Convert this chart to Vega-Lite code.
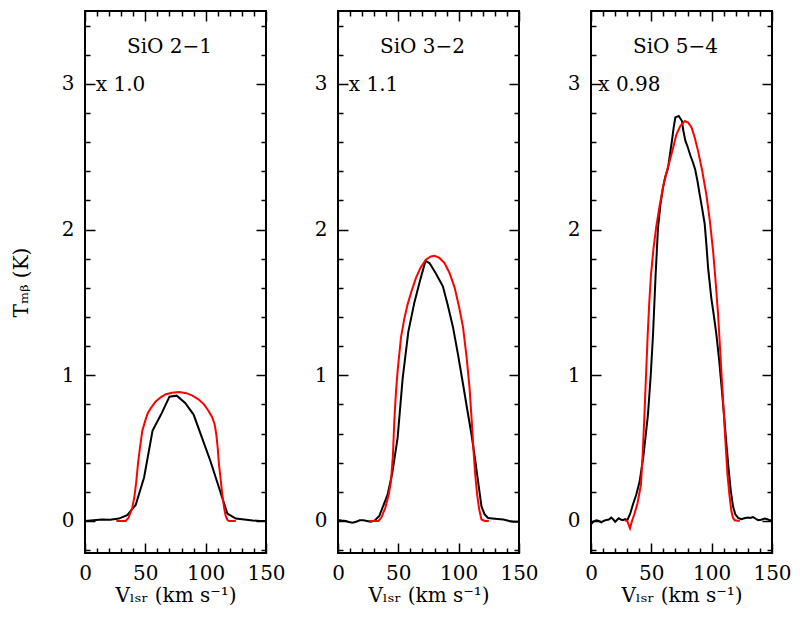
{
  "$schema": "https://vega.github.io/schema/vega-lite/v6.json",
  "background": "white",
  "padding": {"left": 10, "top": 9, "right": 5, "bottom": 5},
  "config": {
    "view": {"stroke": "black", "strokeWidth": 2},
    "font": "DejaVu Serif",
    "axis": {"domain": false, "grid": false, "tickColor": "black", "tickWidth": 1.5, "labelColor": "black", "labelFont": "DejaVu Serif", "labelFontSize": 20, "titleFont": "DejaVu Serif", "titleFontSize": 20, "titleFontWeight": "normal", "titleColor": "black", "labelFlush": false, "labelOverlap": false}
  },
  "datasets": {
    "labels": [
      {"panel": "2-1", "title": "SiO 2−1", "factor": "x 1.0"},
      {"panel": "3-2", "title": "SiO 3−2", "factor": "x 1.1"},
      {"panel": "5-4", "title": "SiO 5−4", "factor": "x 0.98"}
    ],
    "obs21": [{"v":0,"T":0},{"v":7,"T":0.005},{"v":14,"T":0.01},{"v":21,"T":0.008},{"v":28,"T":0.016},{"v":35,"T":0.04},{"v":42,"T":0.11},{"v":49,"T":0.30},{"v":56,"T":0.62},{"v":63,"T":0.73},{"v":70,"T":0.853},{"v":76,"T":0.86},{"v":83,"T":0.81},{"v":90,"T":0.73},{"v":97,"T":0.57},{"v":104,"T":0.41},{"v":111,"T":0.23},{"v":118,"T":0.05},{"v":125,"T":0.016},{"v":132,"T":0.01},{"v":139,"T":0.003},{"v":145,"T":0},{"v":150,"T":0}],
    "mod21": [{"v":26,"T":0},{"v":33.7,"T":0},{"v":36,"T":0.02},{"v":39.2,"T":0.09},{"v":41,"T":0.17},{"v":42.5,"T":0.27},{"v":44,"T":0.4},{"v":45.5,"T":0.5},{"v":47.5,"T":0.62},{"v":50,"T":0.69},{"v":52,"T":0.74},{"v":55,"T":0.78},{"v":58.6,"T":0.82},{"v":63,"T":0.85},{"v":67,"T":0.87},{"v":72,"T":0.88},{"v":78,"T":0.885},{"v":84,"T":0.877},{"v":89,"T":0.86},{"v":94,"T":0.835},{"v":98.6,"T":0.8},{"v":102,"T":0.76},{"v":105.5,"T":0.71},{"v":107.5,"T":0.66},{"v":108.8,"T":0.595},{"v":110,"T":0.5},{"v":111,"T":0.39},{"v":112.5,"T":0.28},{"v":113.8,"T":0.18},{"v":115.3,"T":0.09},{"v":116.6,"T":0.034},{"v":118,"T":0.008},{"v":119.3,"T":0},{"v":125,"T":0}],
    "obs32": [{"v":0,"T":0.007},{"v":3,"T":0.003},{"v":6.4,"T":0},{"v":9,"T":-0.008},{"v":12,"T":-0.012},{"v":15,"T":-0.005},{"v":18,"T":0.004},{"v":21,"T":0.005},{"v":24,"T":0},{"v":27,"T":-0.005},{"v":30,"T":0},{"v":34.2,"T":0.034},{"v":41.1,"T":0.18},{"v":45,"T":0.33},{"v":49.4,"T":0.57},{"v":53.6,"T":0.98},{"v":58.3,"T":1.3},{"v":63.3,"T":1.5},{"v":68,"T":1.65},{"v":72.5,"T":1.785},{"v":75.8,"T":1.77},{"v":81,"T":1.7},{"v":86.9,"T":1.61},{"v":91,"T":1.48},{"v":95.3,"T":1.33},{"v":99.5,"T":1.14},{"v":103.6,"T":0.94},{"v":107,"T":0.77},{"v":110.6,"T":0.595},{"v":113.5,"T":0.43},{"v":116.1,"T":0.27},{"v":118.9,"T":0.1},{"v":121.5,"T":0.045},{"v":124.4,"T":0.02},{"v":130,"T":0.015},{"v":137,"T":0.01},{"v":142,"T":0},{"v":145.3,"T":-0.005},{"v":150,"T":-0.005}],
    "mod32": [{"v":25.8,"T":0},{"v":33.6,"T":0},{"v":36,"T":0.025},{"v":39.2,"T":0.09},{"v":42,"T":0.18},{"v":43.9,"T":0.27},{"v":45.5,"T":0.45},{"v":46.7,"T":0.69},{"v":48,"T":0.88},{"v":49.4,"T":1.03},{"v":52.2,"T":1.26},{"v":55,"T":1.39},{"v":57.8,"T":1.49},{"v":61,"T":1.58},{"v":64.7,"T":1.67},{"v":68.5,"T":1.74},{"v":73,"T":1.795},{"v":77,"T":1.815},{"v":80,"T":1.82},{"v":84,"T":1.805},{"v":88.3,"T":1.77},{"v":92.5,"T":1.7},{"v":96.7,"T":1.6},{"v":100.3,"T":1.47},{"v":103.6,"T":1.33},{"v":106.5,"T":1.13},{"v":109,"T":0.915},{"v":110.8,"T":0.69},{"v":112.5,"T":0.46},{"v":113.8,"T":0.31},{"v":115.3,"T":0.18},{"v":117,"T":0.08},{"v":118.9,"T":0.01},{"v":121.7,"T":0},{"v":125,"T":0}],
    "obs54": [{"v":0,"T":-0.023},{"v":2,"T":-0.005},{"v":4.4,"T":0.005},{"v":6.5,"T":0},{"v":8.5,"T":-0.01},{"v":10.5,"T":0},{"v":12.7,"T":0.007},{"v":14.8,"T":0.01},{"v":16.8,"T":0.023},{"v":18.5,"T":0.01},{"v":20.1,"T":-0.005},{"v":22.9,"T":0.018},{"v":24.7,"T":0.01},{"v":26.5,"T":0.005},{"v":28.3,"T":0.012},{"v":30.1,"T":0.005},{"v":32.5,"T":0.05},{"v":34.8,"T":0.115},{"v":37.5,"T":0.18},{"v":40.3,"T":0.27},{"v":43.5,"T":0.45},{"v":47.2,"T":0.73},{"v":49.5,"T":1.0},{"v":51.4,"T":1.28},{"v":53.5,"T":1.68},{"v":55.5,"T":2.01},{"v":57.5,"T":2.17},{"v":59.7,"T":2.29},{"v":61.5,"T":2.36},{"v":63.8,"T":2.42},{"v":65.5,"T":2.52},{"v":67.1,"T":2.61},{"v":68.5,"T":2.7},{"v":69.9,"T":2.77},{"v":72.7,"T":2.78},{"v":75.4,"T":2.745},{"v":76.5,"T":2.68},{"v":78.2,"T":2.61},{"v":80,"T":2.57},{"v":82.3,"T":2.51},{"v":84.5,"T":2.46},{"v":86.4,"T":2.41},{"v":88.3,"T":2.33},{"v":90.1,"T":2.24},{"v":92.2,"T":2.14},{"v":94.2,"T":2.04},{"v":95.6,"T":1.9},{"v":97,"T":1.74},{"v":99.7,"T":1.53},{"v":101.8,"T":1.41},{"v":103.9,"T":1.28},{"v":106,"T":1.12},{"v":108,"T":0.94},{"v":110.1,"T":0.74},{"v":112.2,"T":0.53},{"v":114,"T":0.36},{"v":115.8,"T":0.21},{"v":117.7,"T":0.1},{"v":119.6,"T":0.046},{"v":122,"T":0.02},{"v":124.6,"T":0.012},{"v":127,"T":0.018},{"v":130.1,"T":0.023},{"v":132,"T":0.02},{"v":134.3,"T":0.027},{"v":136.5,"T":0.015},{"v":138.5,"T":0.005},{"v":141,"T":0.008},{"v":144,"T":0.016},{"v":146,"T":0.012},{"v":148,"T":0.005},{"v":150,"T":0.005}],
    "mod54": [{"v":27.9,"T":0.005},{"v":30,"T":0},{"v":32.3,"T":-0.05},{"v":34,"T":0},{"v":35.9,"T":0.046},{"v":38.5,"T":0.12},{"v":41.4,"T":0.25},{"v":42.8,"T":0.45},{"v":44.2,"T":0.71},{"v":45.6,"T":1.0},{"v":47,"T":1.28},{"v":48.3,"T":1.5},{"v":49.7,"T":1.69},{"v":51.8,"T":1.87},{"v":53.9,"T":2.01},{"v":56.8,"T":2.16},{"v":59.7,"T":2.29},{"v":62.5,"T":2.39},{"v":65.2,"T":2.47},{"v":68,"T":2.56},{"v":70.7,"T":2.65},{"v":74,"T":2.71},{"v":77.7,"T":2.745},{"v":80.5,"T":2.735},{"v":83.3,"T":2.7},{"v":86,"T":2.63},{"v":88.7,"T":2.54},{"v":92,"T":2.41},{"v":95.6,"T":2.24},{"v":98.5,"T":2.06},{"v":101.2,"T":1.85},{"v":103.3,"T":1.64},{"v":105.3,"T":1.42},{"v":107.4,"T":1.12},{"v":109.5,"T":0.82},{"v":111.3,"T":0.56},{"v":113.1,"T":0.32},{"v":114.7,"T":0.18},{"v":116.3,"T":0.07},{"v":117.7,"T":0.02},{"v":119.1,"T":0.005},{"v":123.3,"T":0}]
  },
  "spacing": 72,
  "bounds": "flush",
  "hconcat": [
    {
      "width": 181, "height": 542,
      "layer": [
        {"data": {"name": "obs21"}, "mark": {"type": "line", "color": "black", "strokeWidth": 2, "clip": true},
         "encoding": {
           "x": {"field": "v", "type": "quantitative", "scale": {"domain": [0, 150], "nice": false, "zero": false},
                 "axis": {"orient": "bottom", "values": [0,10,20,30,40,50,60,70,80,90,100,110,120,130,140,150], "tickSize": {"condition": {"test": "datum.value % 50 === 0", "value": -10}, "value": -5}, "labelExpr": "datum.value % 50 === 0 ? format(datum.value, 'd') : ''", "labelPadding": 20, "title": "Vₗₛᵣ (km s⁻¹)", "titlePadding": -3}},
           "y": {"field": "T", "type": "quantitative", "scale": {"domain": [-0.22, 3.5], "nice": false, "zero": false},
                 "axis": {"orient": "left", "values": [-0.2,0,0.2,0.4,0.6,0.8,1,1.2,1.4,1.6,1.8,2,2.2,2.4,2.6,2.8,3,3.2,3.4], "tickSize": {"condition": {"test": "abs(datum.value - round(datum.value)) < 1e-6", "value": -10}, "value": -5}, "labelExpr": "abs(datum.value - round(datum.value)) < 1e-6 ? format(datum.value, 'd') : ''", "labelPadding": 21, "title": "Tₘᵦ (K)", "titlePadding": 30}}
         }},
        {"data": {"name": "mod21"}, "mark": {"type": "line", "color": "#ff0000", "strokeWidth": 2, "clip": true},
         "encoding": {
           "x": {"field": "v", "type": "quantitative",
                 "axis": {"orient": "top", "labels": false, "title": null, "values": [0,10,20,30,40,50,60,70,80,90,100,110,120,130,140,150], "tickSize": {"condition": {"test": "datum.value % 50 === 0", "value": -10}, "value": -5}}},
           "y": {"field": "T", "type": "quantitative",
                 "axis": {"orient": "right", "labels": false, "title": null, "values": [-0.2,0,0.2,0.4,0.6,0.8,1,1.2,1.4,1.6,1.8,2,2.2,2.4,2.6,2.8,3,3.2,3.4], "tickSize": {"condition": {"test": "abs(datum.value - round(datum.value)) < 1e-6", "value": -10}, "value": -5}}}
         }},
        {"data": {"name": "labels"}, "transform": [{"filter": "datum.panel === '2-1'"}],
         "mark": {"type": "text", "align": "center", "baseline": "alphabetic", "fontSize": 20, "font": "DejaVu Serif", "color": "black"},
         "encoding": {"x": {"datum": 70, "type": "quantitative", "axis": null}, "y": {"datum": 3.215, "type": "quantitative", "axis": null}, "text": {"field": "title"}}},
        {"data": {"name": "labels"}, "transform": [{"filter": "datum.panel === '2-1'"}],
         "mark": {"type": "text", "align": "left", "baseline": "alphabetic", "fontSize": 20, "font": "DejaVu Serif", "color": "black"},
         "encoding": {"x": {"datum": 9, "type": "quantitative", "axis": null}, "y": {"datum": 2.952, "type": "quantitative", "axis": null}, "text": {"field": "factor"}}}
      ],
      "resolve": {"axis": {"x": "independent", "y": "independent"}}
    },
    {
      "width": 181, "height": 542,
      "layer": [
        {"data": {"name": "obs32"}, "mark": {"type": "line", "color": "black", "strokeWidth": 2, "clip": true},
         "encoding": {
           "x": {"field": "v", "type": "quantitative", "scale": {"domain": [0, 150], "nice": false, "zero": false},
                 "axis": {"orient": "bottom", "values": [0,10,20,30,40,50,60,70,80,90,100,110,120,130,140,150], "tickSize": {"condition": {"test": "datum.value % 50 === 0", "value": -10}, "value": -5}, "labelExpr": "datum.value % 50 === 0 ? format(datum.value, 'd') : ''", "labelPadding": 20, "title": "Vₗₛᵣ (km s⁻¹)", "titlePadding": -3}},
           "y": {"field": "T", "type": "quantitative", "scale": {"domain": [-0.22, 3.5], "nice": false, "zero": false},
                 "axis": {"orient": "left", "values": [-0.2,0,0.2,0.4,0.6,0.8,1,1.2,1.4,1.6,1.8,2,2.2,2.4,2.6,2.8,3,3.2,3.4], "tickSize": {"condition": {"test": "abs(datum.value - round(datum.value)) < 1e-6", "value": -10}, "value": -5}, "labelExpr": "abs(datum.value - round(datum.value)) < 1e-6 ? format(datum.value, 'd') : ''", "labelPadding": 21, "title": null}}
         }},
        {"data": {"name": "mod32"}, "mark": {"type": "line", "color": "#ff0000", "strokeWidth": 2, "clip": true},
         "encoding": {
           "x": {"field": "v", "type": "quantitative",
                 "axis": {"orient": "top", "labels": false, "title": null, "values": [0,10,20,30,40,50,60,70,80,90,100,110,120,130,140,150], "tickSize": {"condition": {"test": "datum.value % 50 === 0", "value": -10}, "value": -5}}},
           "y": {"field": "T", "type": "quantitative",
                 "axis": {"orient": "right", "labels": false, "title": null, "values": [-0.2,0,0.2,0.4,0.6,0.8,1,1.2,1.4,1.6,1.8,2,2.2,2.4,2.6,2.8,3,3.2,3.4], "tickSize": {"condition": {"test": "abs(datum.value - round(datum.value)) < 1e-6", "value": -10}, "value": -5}}}
         }},
        {"data": {"name": "labels"}, "transform": [{"filter": "datum.panel === '3-2'"}],
         "mark": {"type": "text", "align": "center", "baseline": "alphabetic", "fontSize": 20, "font": "DejaVu Serif", "color": "black"},
         "encoding": {"x": {"datum": 70, "type": "quantitative", "axis": null}, "y": {"datum": 3.215, "type": "quantitative", "axis": null}, "text": {"field": "title"}}},
        {"data": {"name": "labels"}, "transform": [{"filter": "datum.panel === '3-2'"}],
         "mark": {"type": "text", "align": "left", "baseline": "alphabetic", "fontSize": 20, "font": "DejaVu Serif", "color": "black"},
         "encoding": {"x": {"datum": 9, "type": "quantitative", "axis": null}, "y": {"datum": 2.952, "type": "quantitative", "axis": null}, "text": {"field": "factor"}}}
      ],
      "resolve": {"axis": {"x": "independent", "y": "independent"}}
    },
    {
      "width": 181, "height": 542,
      "layer": [
        {"data": {"name": "obs54"}, "mark": {"type": "line", "color": "black", "strokeWidth": 2, "clip": true},
         "encoding": {
           "x": {"field": "v", "type": "quantitative", "scale": {"domain": [0, 150], "nice": false, "zero": false},
                 "axis": {"orient": "bottom", "values": [0,10,20,30,40,50,60,70,80,90,100,110,120,130,140,150], "tickSize": {"condition": {"test": "datum.value % 50 === 0", "value": -10}, "value": -5}, "labelExpr": "datum.value % 50 === 0 ? format(datum.value, 'd') : ''", "labelPadding": 20, "title": "Vₗₛᵣ (km s⁻¹)", "titlePadding": -3}},
           "y": {"field": "T", "type": "quantitative", "scale": {"domain": [-0.22, 3.5], "nice": false, "zero": false},
                 "axis": {"orient": "left", "values": [-0.2,0,0.2,0.4,0.6,0.8,1,1.2,1.4,1.6,1.8,2,2.2,2.4,2.6,2.8,3,3.2,3.4], "tickSize": {"condition": {"test": "abs(datum.value - round(datum.value)) < 1e-6", "value": -10}, "value": -5}, "labelExpr": "abs(datum.value - round(datum.value)) < 1e-6 ? format(datum.value, 'd') : ''", "labelPadding": 21, "title": null}}
         }},
        {"data": {"name": "mod54"}, "mark": {"type": "line", "color": "#ff0000", "strokeWidth": 2, "clip": true},
         "encoding": {
           "x": {"field": "v", "type": "quantitative",
                 "axis": {"orient": "top", "labels": false, "title": null, "values": [0,10,20,30,40,50,60,70,80,90,100,110,120,130,140,150], "tickSize": {"condition": {"test": "datum.value % 50 === 0", "value": -10}, "value": -5}}},
           "y": {"field": "T", "type": "quantitative",
                 "axis": {"orient": "right", "labels": false, "title": null, "values": [-0.2,0,0.2,0.4,0.6,0.8,1,1.2,1.4,1.6,1.8,2,2.2,2.4,2.6,2.8,3,3.2,3.4], "tickSize": {"condition": {"test": "abs(datum.value - round(datum.value)) < 1e-6", "value": -10}, "value": -5}}}
         }},
        {"data": {"name": "labels"}, "transform": [{"filter": "datum.panel === '5-4'"}],
         "mark": {"type": "text", "align": "center", "baseline": "alphabetic", "fontSize": 20, "font": "DejaVu Serif", "color": "black"},
         "encoding": {"x": {"datum": 70, "type": "quantitative", "axis": null}, "y": {"datum": 3.215, "type": "quantitative", "axis": null}, "text": {"field": "title"}}},
        {"data": {"name": "labels"}, "transform": [{"filter": "datum.panel === '5-4'"}],
         "mark": {"type": "text", "align": "left", "baseline": "alphabetic", "fontSize": 20, "font": "DejaVu Serif", "color": "black"},
         "encoding": {"x": {"datum": 6, "type": "quantitative", "axis": null}, "y": {"datum": 2.952, "type": "quantitative", "axis": null}, "text": {"field": "factor"}}}
      ],
      "resolve": {"axis": {"x": "independent", "y": "independent"}}
    }
  ]
}
